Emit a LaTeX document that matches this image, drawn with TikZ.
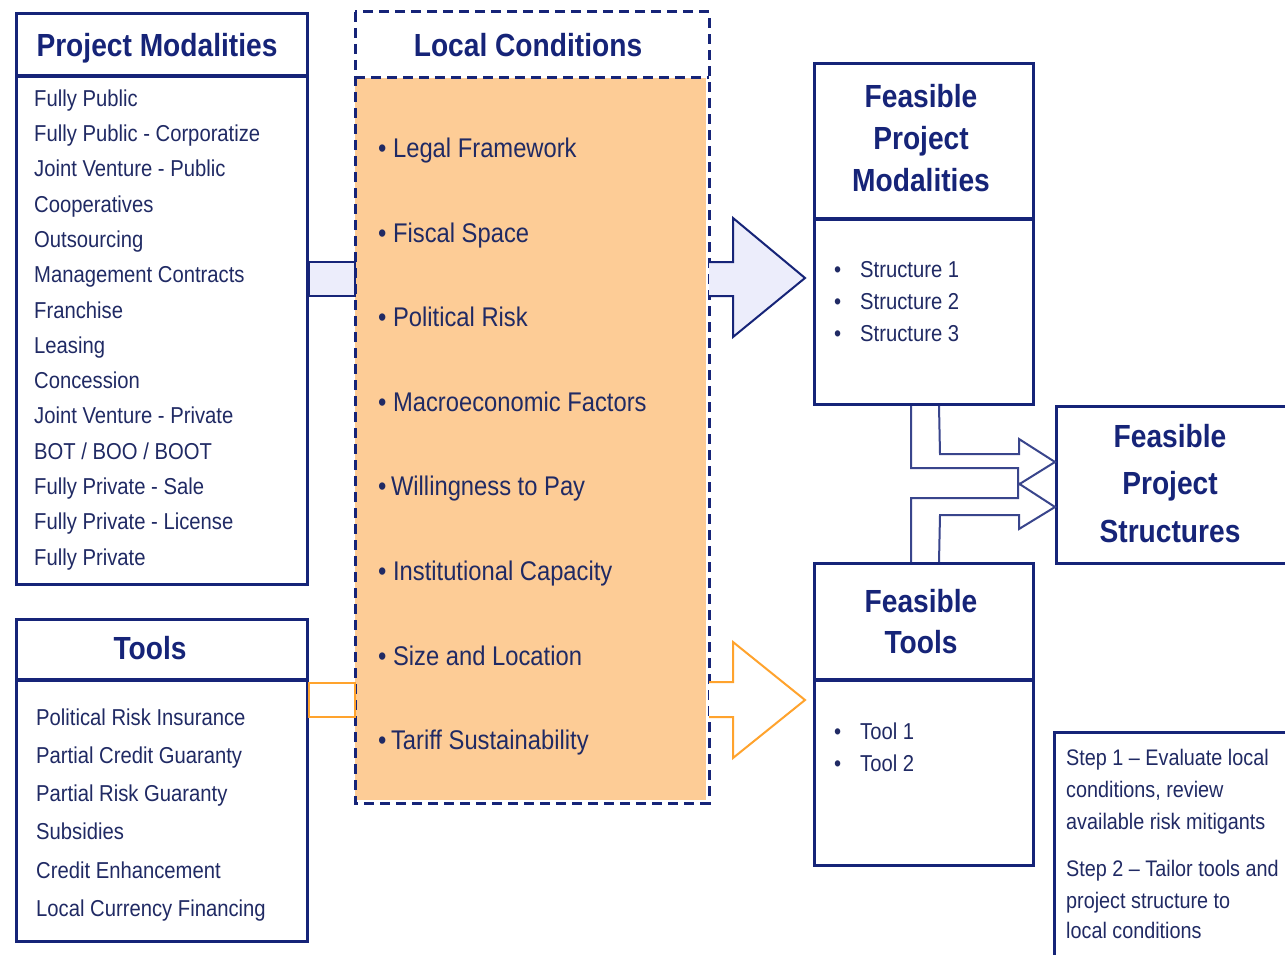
\documentclass[tikz,border=0pt]{standalone}
\usepackage{fontspec}
\setmainfont{Liberation Sans}[FakeStretch=0.88]
\definecolor{navy}{RGB}{22,36,120}
\definecolor{ink}{RGB}{32,42,100}
\definecolor{peach}{RGB}{253,204,150}
\definecolor{orng}{RGB}{255,163,45}
\definecolor{lav}{RGB}{236,237,251}
\begin{document}
\begin{tikzpicture}[x=1pt,y=-1pt,
  box/.style={draw=navy, line width=3pt, anchor=north west, inner sep=0pt},
  sepline/.style={draw=navy, line width=3.5pt},
  dashbox/.style={draw=navy, line width=3pt, dash pattern=on 10pt off 6pt},
  title/.style={font=\bfseries\fontsize{32}{42}\selectfont, text=navy, align=center, inner sep=0pt},
  item/.style={font=\fontsize{23}{28}\selectfont, text=ink, anchor=base west, inner sep=0pt},
  lcitem/.style={font=\fontsize{27}{32}\selectfont, text=ink, anchor=base west, inner sep=0pt},
  stepitem/.style={font=\fontsize{22.5}{30}\selectfont, text=ink, anchor=base west, inner sep=0pt},
  lavarrow/.style={draw=navy, line width=2pt, fill=lav, line join=miter},
  orarrow/.style={draw=orng, line width=2pt, fill=white, line join=miter},
  merge/.style={draw=navy!85!white, line width=2pt, line join=miter}
]
\useasboundingbox (0,0) rectangle (1285,955);
\fill[white] (0,0) rectangle (1285,955);

% ---------- Project Modalities ----------
\node[box, minimum width=291pt, minimum height=571pt] (pm) at (15,12) {};
\draw[sepline] ([yshift=-64]pm.north west) -- ([yshift=-64]pm.north east);
\node[title, anchor=base] (pmt) at (157,56.5) {Project Modalities};
\foreach \t [count=\i] in {Fully Public, Fully Public - Corporatize, Joint Venture - Public, Cooperatives, Outsourcing, Management Contracts, Franchise, Leasing, Concession, Joint Venture - Private, BOT / BOO / BOOT, Fully Private - Sale, Fully Private - License, Fully Private}
  \node[item] (pm\i) at (34,{106.2+35.3*(\i-1)}) {\t};

% ---------- Tools ----------
\node[box, minimum width=291pt, minimum height=322pt] (tl) at (15,618) {};
\draw[sepline] ([yshift=-62]tl.north west) -- ([yshift=-62]tl.north east);
\node[title, anchor=base] (tlt) at (150,659.5) {Tools};
\foreach \t [count=\i] in {Political Risk Insurance, Partial Credit Guaranty, Partial Risk Guaranty, Subsidies, Credit Enhancement, Local Currency Financing}
  \node[item] (tl\i) at (36,{725.2+38.2*(\i-1)}) {\t};

% ---------- Local Conditions ----------
\fill[peach] (355,78) rectangle (706,800);
\node[box, draw=none, minimum width=351pt, minimum height=788pt] (lc) at (355,12) {};
\draw[dashbox] (lc.north west) rectangle (lc.south east);
\draw[dashbox] ([yshift=-66]lc.north west) -- ([yshift=-66]lc.north east);
\node[title, anchor=base] (lct) at (528,56.5) {Local Conditions};
\foreach \t [count=\i] in {Legal Framework, Fiscal Space, Political Risk, Macroeconomic Factors}
  \node[lcitem] (lc\i) at (378,{157.7+84.57*(\i-1)}) {\textbullet\ \t};
\node[lcitem] (lc5) at (378,{157.7+84.57*4}) {\textbullet\,Willingness to Pay};
\node[lcitem] (lc6) at (378,{157.7+84.57*5}) {\textbullet\ Institutional Capacity};
\node[lcitem] (lc7) at (378,{157.7+84.57*6}) {\textbullet\ Size and Location};
\node[lcitem] (lc8) at (378,{157.7+84.57*7}) {\textbullet\,Tariff Sustainability};

% ---------- Feasible Project Modalities ----------
\node[box, minimum width=219pt, minimum height=341pt] (fpm) at (813,62) {};
\draw[sepline] ([yshift=-157]fpm.north west) -- ([yshift=-157]fpm.north east);
\node[title] (fpmt) at (921,138) {Feasible\\Project\\Modalities};
\foreach \t [count=\i] in {Structure 1, Structure 2, Structure 3}
  \node[item] (fpm\i) at (834,{277.2+32*(\i-1)}) {\makebox[26pt][l]{\textbullet}\t};

% ---------- Feasible Tools ----------
\node[box, minimum width=219pt, minimum height=302pt] (ft) at (813,562) {};
\draw[sepline] ([yshift=-118]ft.north west) -- ([yshift=-118]ft.north east);
\node[title, font=\bfseries\fontsize{32}{41}\selectfont] (ftt) at (921,621.5) {Feasible\\Tools};
\foreach \t [count=\i] in {Tool 1, Tool 2}
  \node[item] (ft\i) at (834,{739.2+32*(\i-1)}) {\makebox[26pt][l]{\textbullet}\t};

% ---------- Feasible Project Structures ----------
\node[box, minimum width=250pt, minimum height=157pt] (fps) at (1055,405) {};
\node[title, font=\bfseries\fontsize{32}{47.5}\selectfont] (fpst) at (1170,483.5) {Feasible\\Project\\Structures};

% ---------- Steps ----------
\node[box, minimum width=250pt, minimum height=240pt] (stp) at (1053,731) {};
\node[stepitem] (s1) at (1066,765) {Step 1 – Evaluate local};
\node[stepitem] (s2) at (1066,797) {conditions, review};
\node[stepitem] (s3) at (1066,829) {available risk mitigants};
\node[stepitem] (s4) at (1066,876) {Step 2 – Tailor tools and};
\node[stepitem] (s5) at (1066,908) {project structure to};
\node[stepitem] (s6) at (1066,938) {local conditions};

% ---------- Connectors ----------
\draw[lavarrow] ([yshift=-250]pm.north east) rectangle ([yshift=-284]lc.north west);
\draw[orarrow] ([yshift=-65]tl.north east) rectangle ([yshift=-705]lc.north west);

\draw[lavarrow] ([yshift=-250]lc.north east) -- ++(24,0) -- ++(0,-44) -- ++(72,60)
  -- ++(-72,59) -- ++(0,-41) -- ++(-24,0);
\draw[orarrow] ([yshift=-670]lc.north east) -- ++(24,0) -- ++(0,-40) -- ++(72,58)
  -- ++(-72,58) -- ++(0,-41) -- ++(-24,0);

\draw[merge] ([xshift=98]fpm.south west) -- ++(0,62) -- ++(107,0) -- ++(0,17)
  -- ([yshift=23]fps.west) -- ++(-36,-23) -- ++(0,15) -- ++(-79,0) -- ([xshift=126]fpm.south west);
\draw[merge] ([xshift=98]ft.north west) -- ++(0,-64) -- ++(107,0) -- ++(0,-15)
  -- ([yshift=-22]fps.west) -- ++(-36,22) -- ++(0,-14) -- ++(-79,0) -- ([xshift=126]ft.north west);
\end{tikzpicture}
\end{document}
